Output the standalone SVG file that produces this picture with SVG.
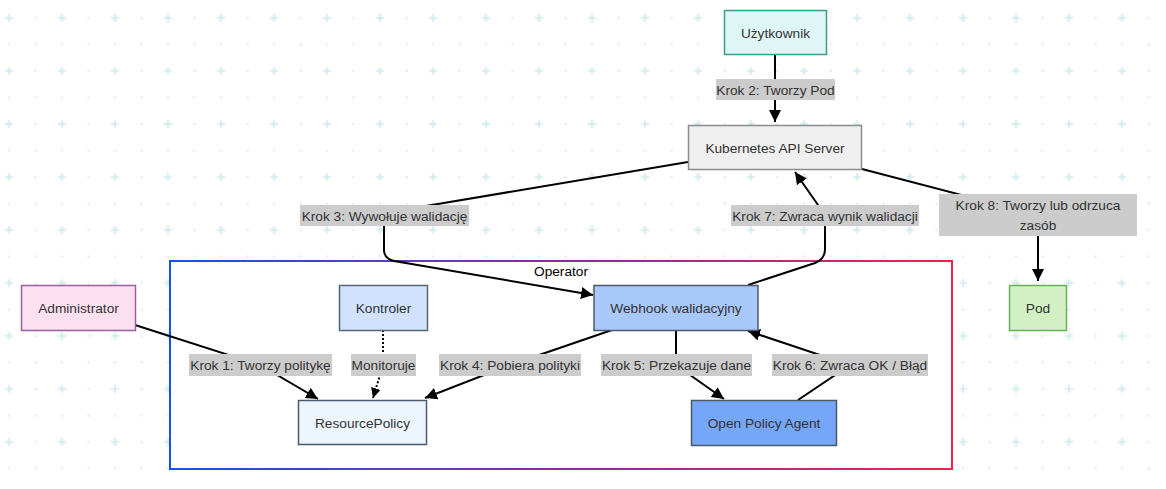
<svg xmlns="http://www.w3.org/2000/svg" width="1166" height="489" viewBox="0 0 1166 489">
<defs>
<pattern id="grid" patternUnits="userSpaceOnUse" x="-4.25" y="4.75" width="53" height="53">
<rect x="9.25" y="12.25" width="8" height="2" fill="#d3ecf0"/>
<rect x="12.25" y="9.25" width="2" height="8" fill="#d3ecf0"/>
<circle cx="39.75" cy="13.25" r="1.2" fill="#dcedf1"/>
<circle cx="13.25" cy="39.75" r="1.2" fill="#dcedf1"/>
<circle cx="39.75" cy="39.75" r="1.2" fill="#dcedf1"/>
</pattern>
<linearGradient id="opg" gradientUnits="userSpaceOnUse" x1="170" y1="0" x2="952" y2="0">
<stop offset="0" stop-color="#1650f2"/>
<stop offset="0.5" stop-color="#8a2aa8"/>
<stop offset="1" stop-color="#f5204a"/>
</linearGradient>
<marker id="arr" markerUnits="userSpaceOnUse" markerWidth="13" markerHeight="13" refX="12" refY="6" orient="auto">
<path d="M0,0 L12,6 L0,12 z" fill="#000"/>
</marker>
<marker id="arrs" markerUnits="userSpaceOnUse" markerWidth="11" markerHeight="11" refX="10" refY="5" orient="auto">
<path d="M0,0 L10,5 L0,10 z" fill="#000"/>
</marker>
</defs>
<style>
text{font-family:"Liberation Sans",Arial,sans-serif;font-size:13.7px;fill:#333;text-anchor:middle}
.node rect{stroke-width:1.5}
.edge{fill:none;stroke:#000;stroke-width:2}
.lbl rect{fill:#cccccc}
</style>
<rect width="1166" height="489" fill="#fff"/>
<rect width="1166" height="489" fill="url(#grid)"/>

<g id="operator">
<rect x="170" y="261" width="782" height="208" fill="#fff" stroke="url(#opg)" stroke-width="2"/>
<text x="561" y="276" style="fill:#000">Operator</text>
</g>

<g id="connectors">
<path class="edge" d="M775,55 L775,122" marker-end="url(#arr)"/>
<path class="edge" d="M688,162 L384,213 L384,251 Q385,259 394,261 L593,295" marker-end="url(#arr)"/>
<path class="edge" d="M748,285 L815,263 Q825,259 825,249 L825,215 L795,172" marker-end="url(#arr)"/>
<path class="edge" d="M862,169 L1038,215 L1038,281" marker-end="url(#arr)"/>
<path class="edge" d="M135,325 L260,365 L318,399" marker-end="url(#arr)"/>
<path class="edge" d="M383,330 L383,365 L373,398" stroke-dasharray="2,2" marker-end="url(#arrs)"/>
<path class="edge" d="M612,330 L510,365 L425,398" marker-end="url(#arr)"/>
<path class="edge" d="M676,330 L676,365 L724,399" marker-end="url(#arr)"/>
<path class="edge" d="M798,400 L850,365 L748,331" marker-end="url(#arr)"/>
<g class="lbl">
<rect x="716" y="79" width="119" height="21"/><text x="775.5" y="94.5">Krok 2: Tworzy Pod</text>
<rect x="300" y="205" width="169" height="21"/><text x="384.5" y="220.5">Krok 3: Wywołuje walidację</text>
<rect x="731" y="205" width="188" height="21"/><text x="825" y="220.5">Krok 7: Zwraca wynik walidacji</text>
<rect x="939" y="194" width="198" height="42"/><text x="1038" y="209.5">Krok 8: Tworzy lub odrzuca</text><text x="1038" y="230">zasób</text>
<rect x="189" y="354" width="143" height="22"/><text x="260.5" y="370">Krok 1: Tworzy politykę</text>
<rect x="351" y="354" width="65" height="22"/><text x="383.5" y="370">Monitoruje</text>
<rect x="439" y="354" width="142" height="22"/><text x="510" y="370">Krok 4: Pobiera polityki</text>
<rect x="601" y="354" width="151" height="22"/><text x="676.5" y="370">Krok 5: Przekazuje dane</text>
<rect x="772" y="354" width="156" height="22"/><text x="850" y="370">Krok 6: Zwraca OK / Błąd</text>
</g>
</g>

<g id="uzytkownik" class="node"><rect x="724.5" y="10.5" width="102" height="44" fill="#dff6f7" stroke="#3a9e88"/><text x="775.5" y="37.5">Użytkownik</text></g>
<g id="k8s" class="node"><rect x="688.5" y="125.5" width="173" height="44" fill="#efefef" stroke="#8c8c8c"/><text x="775" y="152.5">Kubernetes API Server</text></g>
<g id="administrator" class="node"><rect x="21.5" y="285.5" width="114" height="45" fill="#fde0ef" stroke="#9a5fa0"/><text x="78.5" y="312.5">Administrator</text></g>
<g id="kontroler" class="node"><rect x="339.5" y="285.5" width="88" height="45" fill="#d0e2fc" stroke="#56667a"/><text x="383.5" y="312.5">Kontroler</text></g>
<g id="webhook" class="node"><rect x="594" y="285.5" width="164" height="45" fill="#a8c8fa" stroke="#4a5a6c"/><text x="676" y="312.5">Webhook walidacyjny</text></g>
<g id="resourcepolicy" class="node"><rect x="298.5" y="400.5" width="128" height="44" fill="#edf5fe" stroke="#4a5a6c"/><text x="362.5" y="427.5">ResourcePolicy</text></g>
<g id="opa" class="node"><rect x="691.5" y="400.5" width="145" height="45" fill="#76a6f8" stroke="#4a5a6c"/><text x="764" y="427.5">Open Policy Agent</text></g>
<g id="pod" class="node"><rect x="1009.5" y="285.5" width="57" height="45" fill="#d3f0c5" stroke="#66b05a"/><text x="1038" y="312.5">Pod</text></g>
</svg>
